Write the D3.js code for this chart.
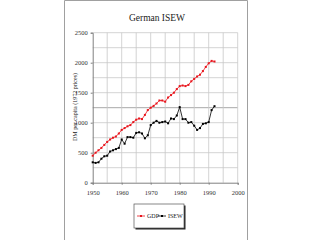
<!DOCTYPE html>
<html>
<head>
<meta charset="utf-8">
<script src="https://cdn.jsdelivr.net/npm/d3@7"></script>
<style>
  body { margin: 0; background: #fff; }
  svg { display: block; font-family: "Liberation Serif", "DejaVu Serif", serif; }
</style>
</head>
<body>
<div id="chart"></div>
<script>
const years = d3.range(1950, 1993);

const gdpValues = [450, 500, 540, 580, 630, 680, 720, 750, 770, 820,
    880, 910, 940, 960, 1010, 1050, 1070, 1060, 1130, 1210,
    1250, 1280, 1320, 1370, 1370, 1350, 1420, 1460, 1500, 1560,
    1610, 1620, 1610, 1630, 1690, 1730, 1770, 1800, 1860, 1930,
    1990, 2030, 2020];

const isewValues = [340, 330, 340, 400, 440, 450, 520, 540, 560, 580,
    720, 650, 760, 760, 750, 830, 840, 820, 740, 790,
    960, 1000, 1030, 1000, 1010, 1020, 990, 1070, 1060, 1120,
    1260, 1060, 1060, 1000, 1010, 950, 880, 910, 980, 990,
    1010, 1210, 1275];

const xTicks = [1950, 1960, 1970, 1980, 1990, 2000];
const yTicks = [0, 500, 1000, 1500, 2000, 2500];
const seriesNames = ['GDP', 'ISEW'];
const seriesColors = ['#e8141c', '#000000'];

displayChart('chart');

function displayChart(divId) {
    const svgWidth = 320;
    const svgHeight = 240;

    const left = 92.7, right = 237.7, top = 32.7, bottom = 182.7;

    const svg = d3.select('#' + divId)
        .append('svg')
        .attr('width', svgWidth)
        .attr('height', svgHeight);

    // slide frame
    svg.append('path')
        .attr('d', 'M64.5,240 V0.5 H247.5 V240')
        .attr('fill', 'none')
        .attr('stroke', '#a0a0a0')
        .attr('stroke-width', 1);

    const x = d3.scaleLinear().domain([1950, 2000]).range([left, right]);
    const y = d3.scaleLinear().domain([0, 2500]).range([bottom, top]);

    // grid
    const grid = svg.append('g');
    grid.selectAll('.hgrid')
        .data(d3.range(250, 2501, 250))
        .enter().append('line')
        .attr('x1', left).attr('x2', right)
        .attr('y1', d => y(d)).attr('y2', d => y(d))
        .attr('stroke', d => d === 1250 ? '#a8a8a8' : '#c8c8c8')
        .attr('stroke-width', d => d === 1250 ? 1 : 0.8);
    grid.selectAll('.vgrid')
        .data(d3.range(1955, 2001, 5))
        .enter().append('line')
        .attr('x1', d => x(d)).attr('x2', d => x(d))
        .attr('y1', top).attr('y2', bottom)
        .attr('stroke', '#c8c8c8')
        .attr('stroke-width', 0.8);

    // axes
    const xAxis = svg.append('g')
        .attr('transform', `translate(0, ${bottom})`)
        .call(d3.axisBottom(x).tickValues(xTicks).tickFormat(d3.format('d')).tickSize(2).tickPadding(6));
    const yAxis = svg.append('g')
        .attr('transform', `translate(${left}, 0)`)
        .call(d3.axisLeft(y).tickValues(yTicks).tickFormat(d3.format('d')).tickSize(2).tickPadding(3));
    [xAxis, yAxis].forEach(a => {
        a.selectAll('path, line').attr('stroke', '#808080');
        a.selectAll('text')
            .attr('font-family', '"Liberation Serif", serif')
            .attr('font-size', 6.5)
            .attr('fill', '#333');
    });

    // title
    svg.append('text')
        .attr('x', 157)
        .attr('y', 21)
        .attr('text-anchor', 'middle')
        .attr('font-size', 9.5)
        .attr('fill', '#222')
        .text('German ISEW');

    // y label
    svg.append('text')
        .attr('transform', `translate(77, 107) rotate(-90)`)
        .attr('text-anchor', 'middle')
        .attr('font-size', 6)
        .attr('fill', '#222')
        .text('DM per capita (1972 prices)');

    const line = d3.line()
        .x((d, i) => x(years[i]))
        .y(d => y(d));

    [gdpValues, isewValues].forEach((values, s) => {
        svg.append('path')
            .datum(values)
            .attr('d', line)
            .attr('fill', 'none')
            .attr('stroke', seriesColors[s])
            .attr('stroke-width', 0.8);
        svg.append('g').selectAll('rect')
            .data(values)
            .enter().append('rect')
            .attr('x', (d, i) => x(years[i]) - 1)
            .attr('y', d => y(d) - 1)
            .attr('width', 2)
            .attr('height', 2)
            .attr('fill', seriesColors[s]);
    });

    // legend
    const legend = svg.append('g').attr('transform', 'translate(134, 204)');
    legend.append('rect')
        .attr('x', 1.5).attr('y', 1.5)
        .attr('width', 50).attr('height', 24)
        .attr('fill', '#222');
    legend.append('rect')
        .attr('width', 50).attr('height', 24)
        .attr('fill', '#fff')
        .attr('stroke', '#555')
        .attr('stroke-width', 0.7);

    const itemX = [3, 24];
    seriesNames.forEach((name, s) => {
        const g = legend.append('g').attr('transform', `translate(${itemX[s]}, 12)`);
        g.append('line')
            .attr('x1', 0).attr('x2', 8)
            .attr('stroke', seriesColors[s])
            .attr('stroke-width', 0.8);
        g.append('rect')
            .attr('x', 3).attr('y', -1)
            .attr('width', 2).attr('height', 2)
            .attr('fill', seriesColors[s]);
        g.append('text')
            .attr('x', 10)
            .attr('y', 2)
            .attr('font-size', 6)
            .attr('fill', '#222')
            .text(name);
    });
}
</script>
</body>
</html>
